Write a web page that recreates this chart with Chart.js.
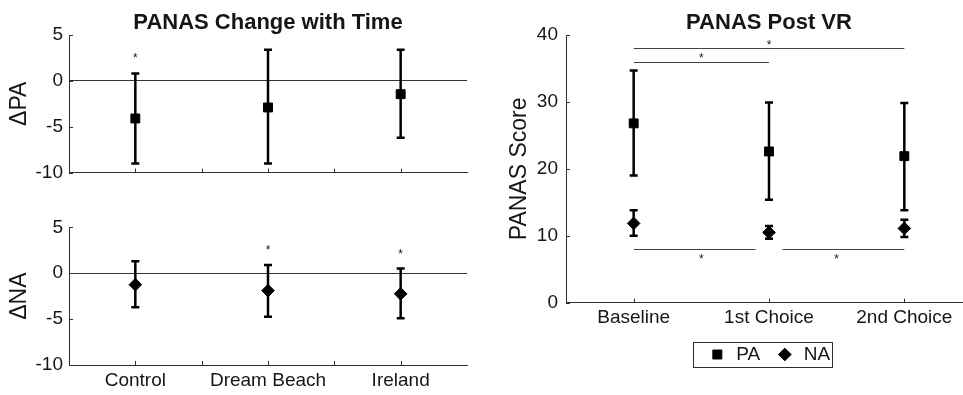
<!DOCTYPE html>
<html lang="en">
<head>
<meta charset="UTF-8">
<title>PANAS</title>
<script src="https://cdn.jsdelivr.net/npm/chart.js"></script>
<style>
  body{margin:0; width:963px; height:395px; overflow:hidden; background:#fff; position:relative;}
  canvas{position:absolute;}
  #chtPA{left:0; top:0;}
  #chtNA{left:0; top:190px;}
  #chtPost{left:490px; top:0;}
</style>
</head>
<body>
<canvas id="chtPA" width="480" height="190"></canvas>
<canvas id="chtNA" width="480" height="205"></canvas>
<canvas id="chtPost" width="556" height="395"></canvas>
<script>
// ----- left panels: change with time -----
const groups = ['Control', 'Dream Beach', 'Ireland'];
const groupTicks = [1, 1.5, 2, 2.5, 3];
const dTicks = [-10, -5, 0, 5];

const dPaMean = [-4.1, -2.9, -1.45];
const dPaHi = [0.8, 3.4, 3.4];
const dPaLo = [-9.0, -9.0, -6.2];
const dPaStar = [2.8, null, null];

const dNaMean = [-1.25, -1.9, -2.25];
const dNaHi = [1.3, 0.9, 0.5];
const dNaLo = [-3.7, -4.75, -4.9];
const dNaStar = [null, 2.9, 2.45];

// ----- right panel: post VR -----
const conds = ['Baseline', '1st Choice', '2nd Choice'];
const condTicks = [1, 2, 3];
const scoreTicks = [0, 10, 20, 30, 40];

const paMean = [26.8, 22.6, 21.9];
const paHi = [34.7, 29.9, 29.85];
const paLo = [19.0, 15.4, 13.8];
const naMean = [11.85, 10.5, 11.1];
const naHi = [13.8, 11.45, 12.4];
const naLo = [10.0, 9.55, 9.8];

// significance bars
const sigFrom = [1, 1, 1, 2.1];
const sigTo = [2, 3, 1.9, 3];
const sigY = [36, 38, 8, 8];
const sigStarX = [1.5, 2, 1.5, 2.5];
const sigStarY = [37, 39, 7, 7];

const FONT = "'Liberation Sans', Arial, Helvetica, sans-serif";
const INK = '#161616';
const AXIS = '#2e2e2e';

function drawStar(ctx, px, py){
  ctx.save();
  ctx.fillStyle = INK;
  ctx.font = '12px ' + FONT;
  ctx.textAlign = 'center';
  ctx.textBaseline = 'alphabetic';
  ctx.fillText('*', px, py + 7);
  ctx.restore();
}

// error bars + stars over each point
const errorBars = {
  id: 'errorBars',
  beforeDatasetsDraw(chart){
    const {ctx, scales:{x, y}} = chart;
    ctx.save();
    ctx.strokeStyle = '#000';
    ctx.lineWidth = 2.5;
    chart.data.datasets.forEach(ds => {
      if(!ds.errLo) return;
      ds.data.forEach((p, i) => {
        const px = x.getPixelForValue(p.x);
        const top = y.getPixelForValue(ds.errHi[i]);
        const bot = y.getPixelForValue(ds.errLo[i]);
        ctx.beginPath();
        ctx.moveTo(px, top); ctx.lineTo(px, bot);
        ctx.moveTo(px - 4, top); ctx.lineTo(px + 4, top);
        ctx.moveTo(px - 4, bot); ctx.lineTo(px + 4, bot);
        ctx.stroke();
      });
    });
    ctx.restore();
  },
  afterDatasetsDraw(chart){
    const {ctx, scales:{x, y}} = chart;
    chart.data.datasets.forEach(ds => {
      if(!ds.stars) return;
      ds.stars.forEach((s, i) => {
        if(s == null) return;
        drawStar(ctx, x.getPixelForValue(ds.data[i].x), y.getPixelForValue(s));
      });
    });
  }
};

// matlab style ticks pointing inward
const inTicks = {
  id: 'inTicks',
  afterDraw(chart){
    const {ctx, chartArea:a, scales:{x, y}} = chart;
    ctx.save();
    ctx.strokeStyle = AXIS;
    ctx.lineWidth = 1;
    ctx.beginPath();
    y.ticks.forEach(t => {
      const py = Math.round(y.getPixelForValue(t.value)) + 0.5;
      ctx.moveTo(a.left, py); ctx.lineTo(a.left + 4, py);
    });
    x.ticks.forEach(t => {
      const px = Math.round(x.getPixelForValue(t.value)) + 0.5;
      ctx.moveTo(px, a.bottom); ctx.lineTo(px, a.bottom - 4);
    });
    ctx.stroke();
    ctx.restore();
  }
};

const sigBars = {
  id: 'sigBars',
  afterDatasetsDraw(chart){
    const {ctx, scales:{x, y}} = chart;
    ctx.save();
    ctx.strokeStyle = '#444';
    ctx.lineWidth = 1;
    ctx.beginPath();
    sigY.forEach((v, i) => {
      const py = Math.round(y.getPixelForValue(v)) + 0.5;
      ctx.moveTo(x.getPixelForValue(sigFrom[i]), py);
      ctx.lineTo(x.getPixelForValue(sigTo[i]), py);
    });
    ctx.stroke();
    ctx.restore();
    sigStarY.forEach((v, i) => drawStar(ctx, x.getPixelForValue(sigStarX[i]), y.getPixelForValue(v)));
  }
};

const legendFrame = {
  id: 'legendFrame',
  afterDraw(chart){
    const hb = chart.legend.legendHitBoxes;
    if(!hb || !hb.length) return;
    const last = hb[hb.length - 1];
    const left = Math.round(hb[0].left + 9.5 - 24) + 0.5;
    const right = Math.round(last.left + last.width + 2) + 0.5;
    const cy = hb[0].top + hb[0].height / 2;
    const ctx = chart.ctx;
    ctx.save();
    ctx.strokeStyle = AXIS;
    ctx.lineWidth = 1;
    ctx.strokeRect(left, Math.round(cy - 12.5) + 0.5, right - left, 25);
    ctx.restore();
  }
};

function xScale(max, tickArr, labels, showLabels, h){
  return {
    type: 'linear', min: 0.5, max: max,
    afterBuildTicks: s => { s.ticks = tickArr.map(v => ({value: v})); },
    ticks: {
      display: showLabels, padding: 4, color: INK, maxRotation: 0, autoSkip: false,
      font: {family: FONT, size: 19},
      callback: v => Number.isInteger(v) ? labels[v - 1] : ''
    },
    grid: {display: false, drawTicks: false},
    border: {display: true, color: AXIS, width: 1},
    afterFit: s => { s.height = h; }
  };
}

function yScale(min, max, tickArr, title, titlePad, w, zeroLine){
  return {
    type: 'linear', min: min, max: max,
    afterBuildTicks: s => { s.ticks = tickArr.map(v => ({value: v})); },
    ticks: {padding: 6, color: INK, font: {family: FONT, size: 19}},
    grid: {
      display: zeroLine, drawTicks: false, lineWidth: 1,
      color: c => (c.tick && c.tick.value === 0) ? '#333' : 'rgba(0,0,0,0)'
    },
    border: {display: true, color: AXIS, width: 1},
    title: {display: true, text: title, color: INK, font: {family: FONT, size: 23}, padding: {top: titlePad, bottom: 0}},
    afterFit: s => { s.width = w; }
  };
}

function pts(arr){ return arr.map((v, i) => ({x: i + 1, y: v})); }

const common = {responsive: false, animation: false, events: []};
const titleFont = {family: FONT, size: 22, weight: 'bold', lineHeight: 1.1};

// top left
new Chart(document.getElementById('chtPA'), {
  type: 'scatter',
  data: {datasets: [{
    label: 'ΔPA', data: pts(dPaMean), errLo: dPaLo, errHi: dPaHi, stars: dPaStar,
    pointStyle: 'rect', pointRadius: 6.3, borderWidth: 1,
    backgroundColor: '#000', borderColor: '#000'
  }]},
  options: {
    ...common,
    layout: {padding: {right: 13}},
    plugins: {
      legend: {display: false}, tooltip: {enabled: false},
      title: {display: true, text: 'PANAS Change with Time', color: INK, fullSize: false,
        font: titleFont, padding: {top: 10.5, bottom: 0.3}}
    },
    scales: {
      x: xScale(3.5, groupTicks, groups, false, 17),
      y: yScale(-10, 5, dTicks, 'ΔPA', 6.2, 69, true)
    }
  },
  plugins: [errorBars, inTicks]
});

// bottom left
new Chart(document.getElementById('chtNA'), {
  type: 'scatter',
  data: {datasets: [{
    label: 'ΔNA', data: pts(dNaMean), errLo: dNaLo, errHi: dNaHi, stars: dNaStar,
    pointStyle: 'rectRot', pointRadius: 6.3, borderWidth: 1,
    backgroundColor: '#000', borderColor: '#000'
  }]},
  options: {
    ...common,
    layout: {padding: {top: 37.3, right: 13}},
    plugins: {legend: {display: false}, tooltip: {enabled: false}},
    scales: {
      x: xScale(3.5, groupTicks, groups, true, 30),
      y: yScale(-10, 5, dTicks, 'ΔNA', 6.2, 69, true)
    }
  },
  plugins: [errorBars, inTicks]
});

// right
const postY = yScale(0, 40, scoreTicks, 'PANAS Score', 16.2, 76, false);
postY.ticks.padding = 8;
new Chart(document.getElementById('chtPost'), {
  type: 'scatter',
  data: {datasets: [
    {label: 'PA', data: pts(paMean), errLo: paLo, errHi: paHi,
      pointStyle: 'rect', pointRadius: 6.3, borderWidth: 1, backgroundColor: '#000', borderColor: '#000'},
    {label: 'NA', data: pts(naMean), errLo: naLo, errHi: naHi,
      pointStyle: 'rectRot', pointRadius: 6.3, borderWidth: 1, backgroundColor: '#000', borderColor: '#000'}
  ]},
  options: {
    ...common,
    layout: {padding: {right: 74, bottom: 21}},
    plugins: {
      tooltip: {enabled: false},
      title: {display: true, text: 'PANAS Post VR', color: INK, fullSize: false,
        font: titleFont, padding: {top: 10.5, bottom: 0.3}},
      legend: {
        position: 'bottom', fullSize: false,
        labels: {usePointStyle: true, boxHeight: 9, boxWidth: 19, padding: 15, color: INK,
          font: {family: FONT, size: 19}}
      }
    },
    scales: {
      x: xScale(3.5, condTicks, conds, true, 27.3),
      y: postY
    }
  },
  plugins: [errorBars, inTicks, sigBars, legendFrame]
});
</script>
</body>
</html>
